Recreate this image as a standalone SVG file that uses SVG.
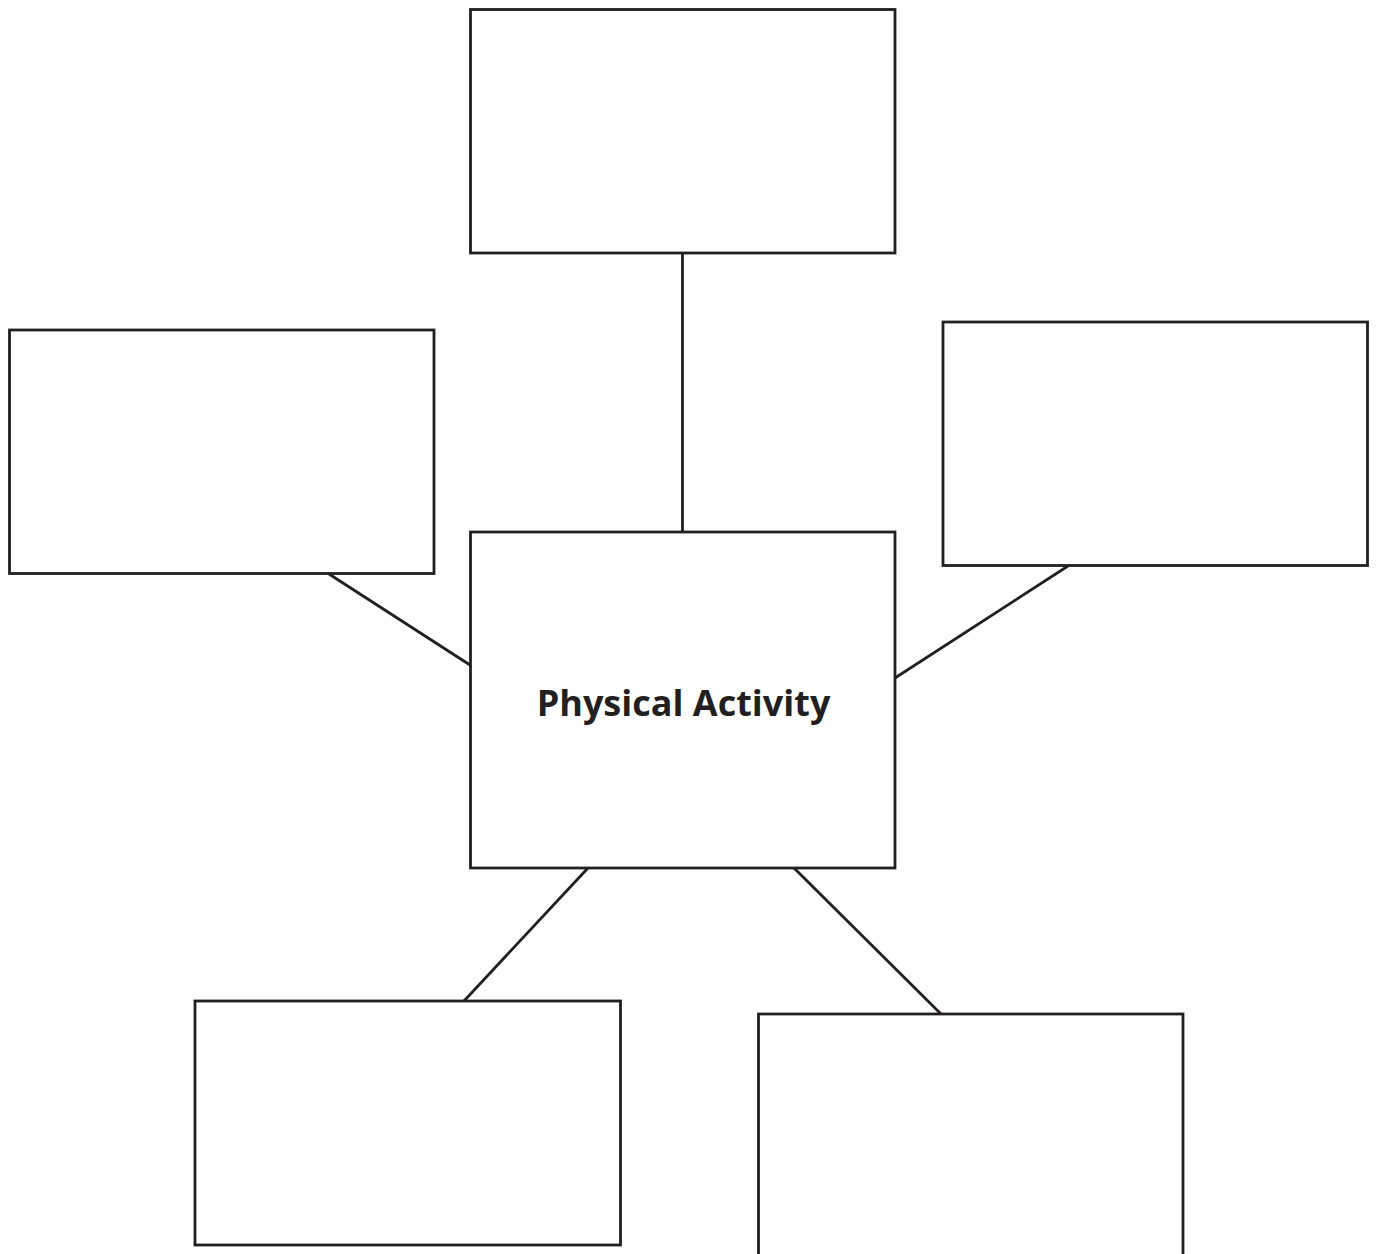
<svg xmlns="http://www.w3.org/2000/svg" width="1377" height="1254" viewBox="0 0 1377 1254">
<style>
.box{fill:#fff;stroke:#231f20;stroke-width:2.8}
.conn{stroke:#231f20;stroke-width:2.8;fill:none}
.label{font-family:"Open Sans","Liberation Sans",sans-serif;font-weight:bold;font-size:36px;fill:#231f20;text-anchor:middle}
</style>
<rect width="1377" height="1254" fill="#fff"/>
<g id="connectors">
<line class="conn" x1="682.5" y1="253" x2="682.5" y2="532"/>
<line class="conn" x1="329" y1="574" x2="470" y2="665"/>
<line class="conn" x1="1068" y1="566" x2="895" y2="678"/>
<line class="conn" x1="588" y1="868" x2="464" y2="1001"/>
<line class="conn" x1="794" y1="868" x2="941" y2="1014"/>
</g>
<g id="node-top"><rect class="box" x="470.5" y="9.5" width="424.5" height="243.5"/></g>
<g id="node-left"><rect class="box" x="9.5" y="330" width="424.5" height="243.5"/></g>
<g id="node-right"><rect class="box" x="943" y="322" width="424.5" height="243.5"/></g>
<g id="node-center"><rect class="box" x="470.5" y="532" width="424.5" height="336"/><text class="label" x="683.5" y="716">Physical Activity</text></g>
<g id="node-bottom-left"><rect class="box" x="195" y="1001" width="425.5" height="244"/></g>
<g id="node-bottom-right"><rect class="box" x="758.5" y="1014" width="424.5" height="260"/></g>
</svg>
